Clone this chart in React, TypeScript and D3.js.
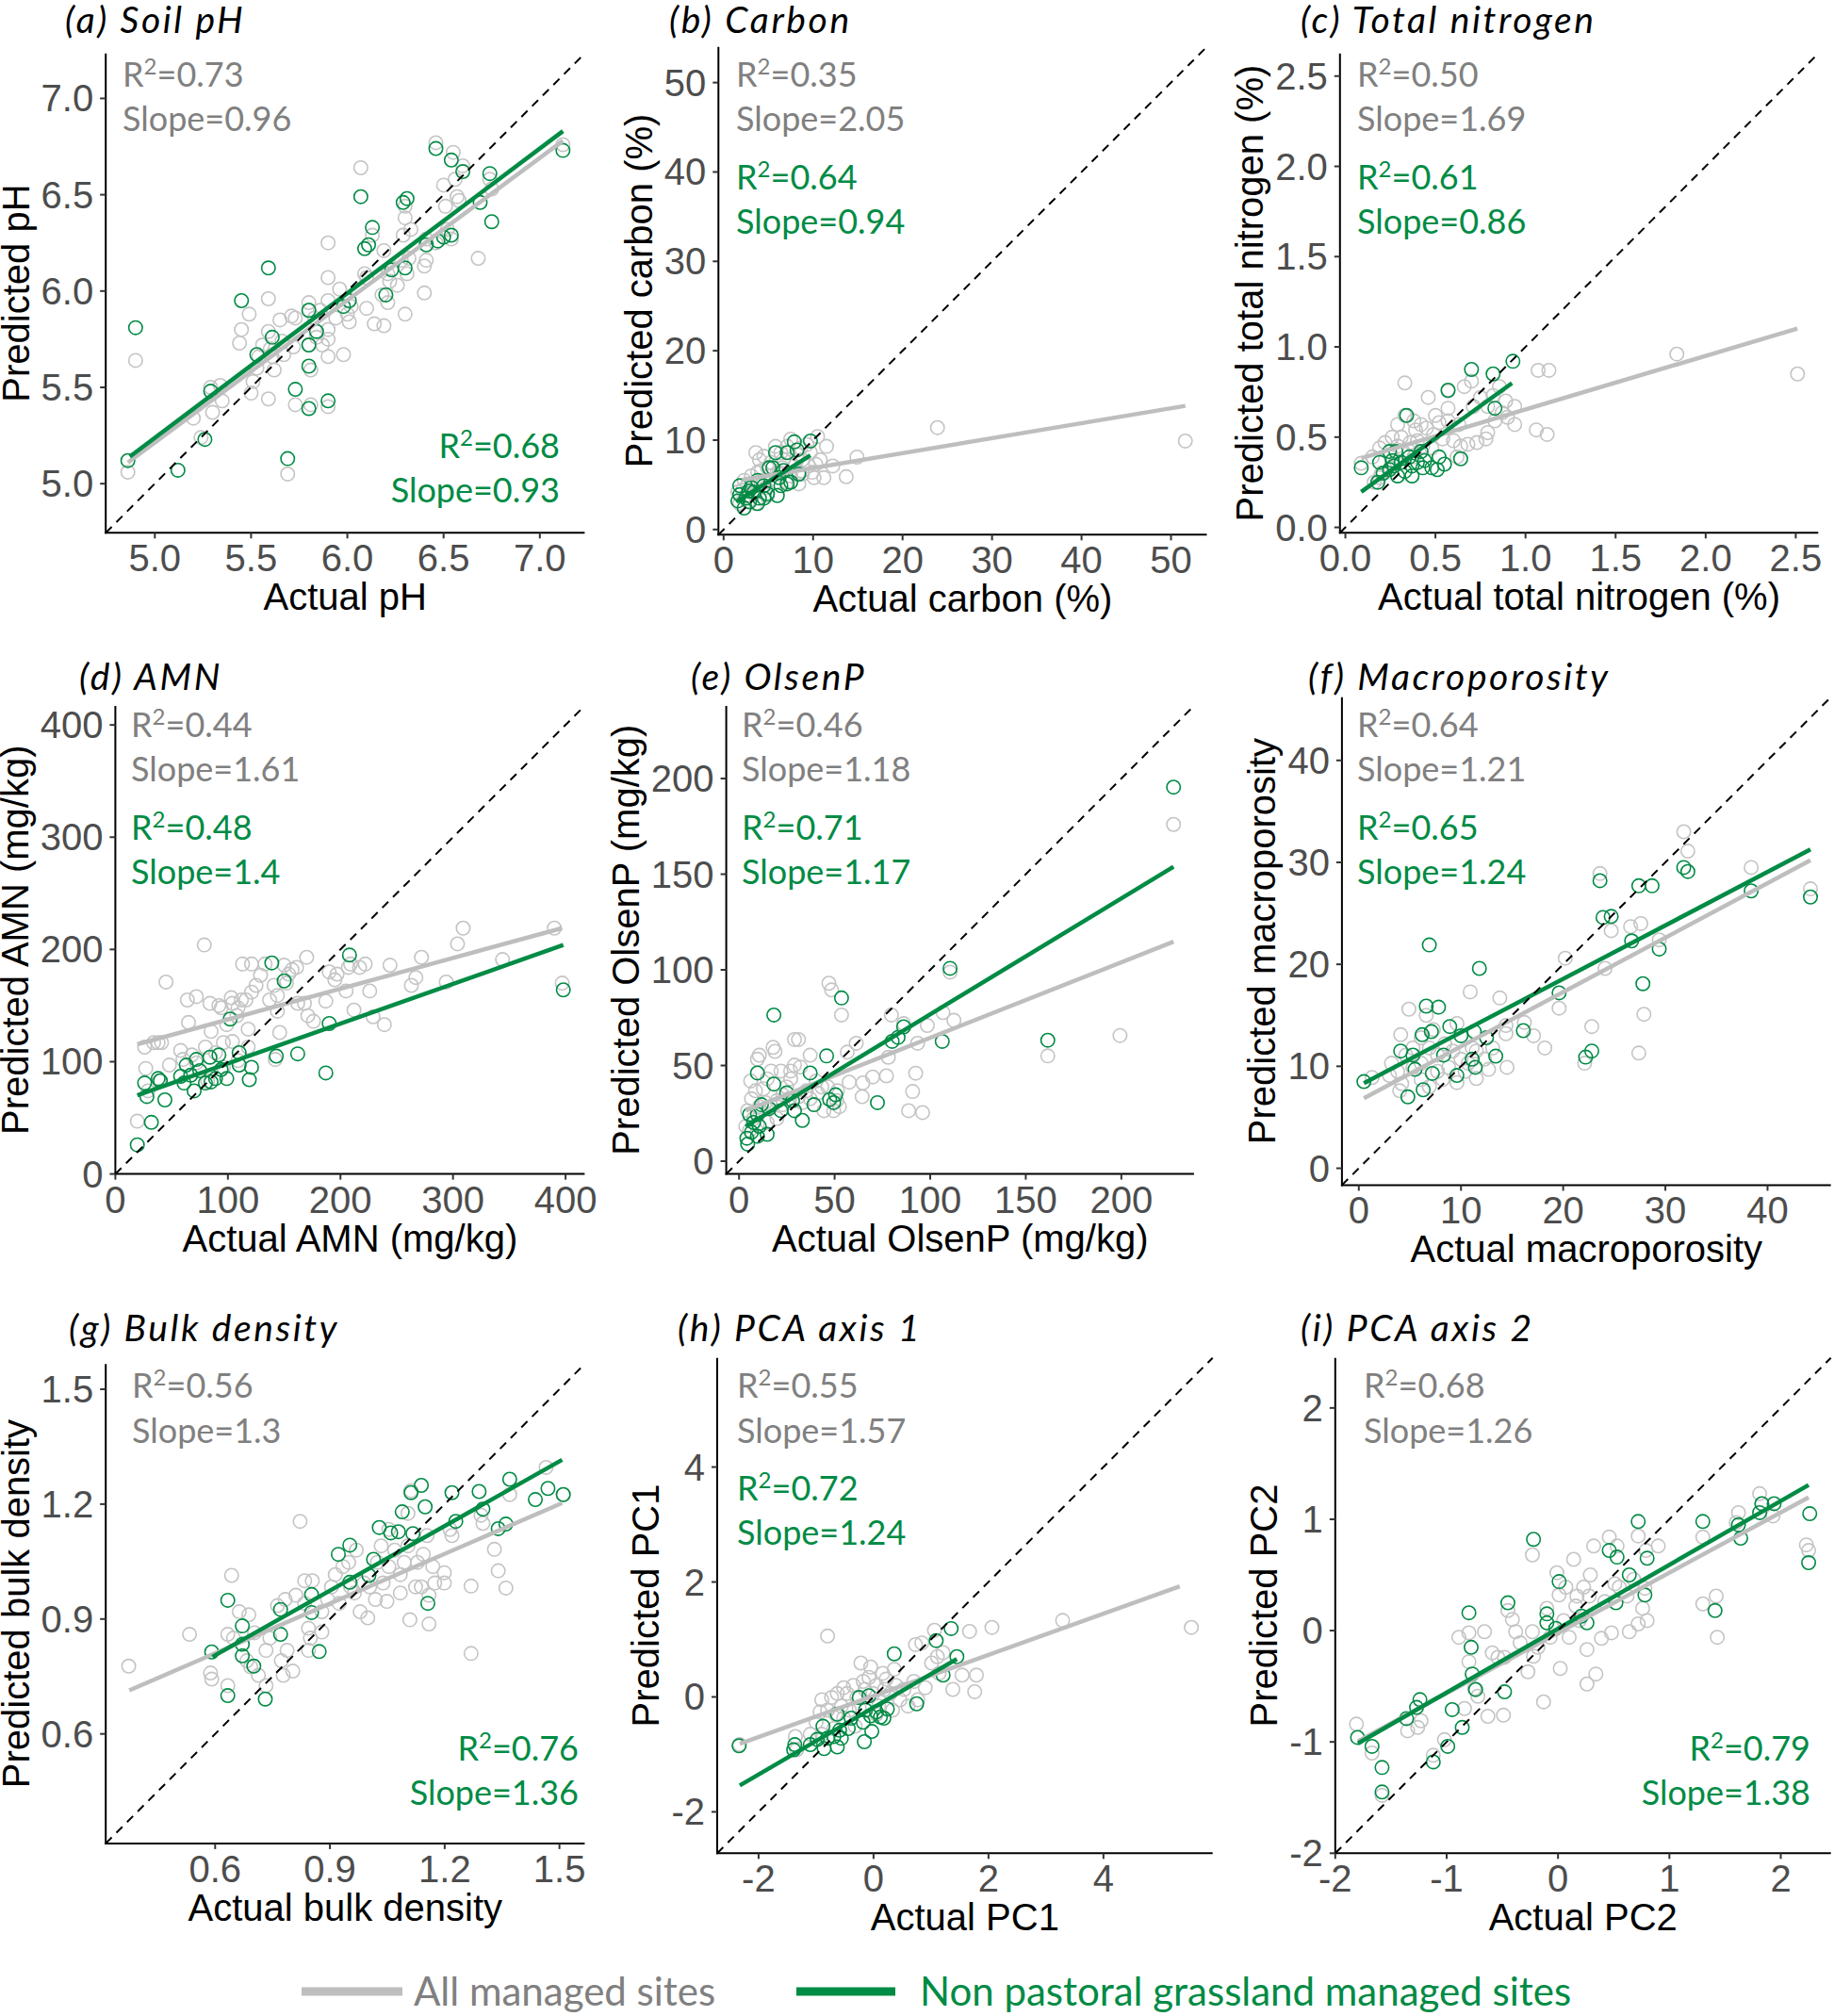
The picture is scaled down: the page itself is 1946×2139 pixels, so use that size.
import React from "react";
import * as d3 from "d3";

type Pt = [number, number];

// ---------------- DATA ----------------
const phGray: Pt[] = [[4.86,5.06],[4.90,5.64],[5.20,5.34],[5.24,5.24],[5.30,5.37],[5.29,5.50],[5.35,5.43],[5.34,5.51],[5.44,5.73],[5.45,5.80],[5.49,5.88],[5.50,5.47],[5.51,5.53],[5.53,5.60],[5.54,5.66],[5.56,5.72],[5.59,5.79],[5.59,5.96],[5.59,5.44],[5.60,5.70],[5.62,5.59],[5.61,5.66],[5.66,5.74],[5.65,5.85],[5.67,5.67],[5.71,5.87],[5.72,5.71],[5.69,5.05],[5.73,5.41],[5.73,5.86],[5.80,5.94],[5.80,5.90],[5.80,5.72],[5.81,5.59],[5.81,5.41],[5.83,5.86],[5.84,5.76],[5.86,5.90],[5.87,5.72],[5.90,6.25],[5.90,6.07],[5.90,5.95],[5.90,5.80],[5.90,5.75],[5.90,5.66],[5.90,5.40],[5.94,5.86],[5.96,6.01],[5.98,5.67],[6.00,5.88],[6.01,5.84],[6.02,5.92],[6.07,6.64],[6.09,6.09],[6.10,6.07],[6.10,5.91],[6.13,6.29],[6.14,5.83],[6.18,5.98],[6.19,5.82],[6.19,6.21],[6.21,6.09],[6.22,6.05],[6.21,5.94],[6.26,6.03],[6.28,6.16],[6.29,6.29],[6.30,6.38],[6.30,6.44],[6.30,5.88],[6.31,6.09],[6.32,6.17],[6.33,6.32],[6.40,5.99],[6.40,6.13],[6.41,6.16],[6.41,6.27],[6.46,6.25],[6.46,6.77],[6.50,6.55],[6.51,6.44],[6.52,6.32],[6.54,6.27],[6.55,6.72],[6.56,6.58],[6.57,6.49],[6.58,6.47],[6.60,6.65],[6.68,6.17],[6.74,6.58],[6.75,6.53],[7.12,6.76]];
const phGreen: Pt[] = [[4.86,5.12],[4.90,5.81],[5.12,5.07],[5.26,5.23],[5.29,5.48],[5.45,5.95],[5.53,5.67],[5.59,6.12],[5.61,5.76],[5.69,5.13],[5.73,5.49],[5.80,5.90],[5.80,5.72],[5.80,5.61],[5.80,5.39],[5.84,5.79],[5.90,5.43],[5.98,5.92],[6.01,5.95],[6.07,6.49],[6.09,6.22],[6.11,6.24],[6.13,6.33],[6.20,5.98],[6.23,6.11],[6.29,6.46],[6.31,6.48],[6.30,6.12],[6.41,6.24],[6.47,6.26],[6.50,6.28],[6.54,6.29],[6.46,6.74],[6.54,6.68],[6.60,6.62],[6.69,6.46],[6.74,6.61],[6.75,6.36],[7.12,6.73]];
const phGrayLine: Pt[] = [[4.86,5.11],[7.12,6.78]];
const phGreenLine: Pt[] = [[4.87,5.14],[7.12,6.83]];
const phTicks = [5.0, 5.5, 6.0, 6.5, 7.0];
const phDomain: Pt = [4.745, 7.233];

const cGray: Pt[] = [[23.9,11.4],[51.6,9.9],[14.9,8.1],[13.7,5.9],[12.2,7.1],[11.5,9.3],[11.2,5.8],[10.8,7.8],[10.1,5.8],[10.5,10.4],[9.3,9.5],[8.4,6.4],[8.2,8.4],[7.5,10.1],[7.1,5.3],[6.7,7.8],[6.2,6.2],[5.8,9.3],[5.3,7.5],[4.9,6.9],[4.5,5.5],[4.0,7.8],[3.6,8.6],[3.8,6.4],[3.1,6.0],[2.7,5.1],[2.3,5.5],[2.1,4.4],[1.6,4.2],[2.5,3.8],[3.4,4.0],[4.7,4.7],[5.8,5.3],[6.6,6.9],[7.3,8.6],[8.8,7.8],[9.5,7.1],[9.7,8.6],[6.4,8.6],[5.1,6.0],[4.2,6.6],[7.5,6.0],[8.4,5.1],[7.9,7.1],[2.7,3.1],[1.8,2.9],[3.6,2.9],[4.9,3.8],[6.0,6.4],[8.8,6.2],[9.9,6.4],[10.3,7.3],[8.6,9.1],[7.1,9.3],[4.5,8.2]];
const cGreen: Pt[] = [[1.6,3.2],[1.8,3.9],[2.3,2.4],[2.5,3.5],[2.9,3.1],[3.4,4.2],[3.8,2.9],[4.0,3.5],[4.5,3.5],[4.9,4.0],[3.8,5.5],[4.5,4.9],[5.1,6.9],[5.8,8.6],[6.0,3.8],[6.2,5.8],[6.7,6.6],[7.1,8.6],[7.1,5.1],[7.5,5.3],[7.9,9.8],[8.2,8.9],[8.4,6.2],[9.7,9.9],[5.5,6.9],[3.1,4.7],[6.4,4.9],[1.8,4.9],[2.8,4.3]];
const cGrayLine: Pt[] = [[2.05,5.54],[51.6,13.83]];
const cGreenLine: Pt[] = [[1.4,3.1],[9.7,8.29]];
const cTicks = [0, 10, 20, 30, 40, 50];
const cDomain: Pt = [-0.58, 54.0];

const nGray: Pt[] = [[0.088,0.355],[0.22,0.47],[0.33,0.80],[0.46,0.72],[0.57,0.755],[0.57,0.66],[0.57,0.59],[0.66,0.78],[0.70,0.81],[0.71,0.67],[0.75,0.72],[0.79,0.525],[0.79,0.67],[0.82,0.73],[0.855,0.78],[0.87,0.635],[0.89,0.70],[0.90,0.61],[0.94,0.67],[0.94,0.57],[1.07,0.87],[1.13,0.87],[1.06,0.54],[1.12,0.515],[1.84,0.96],[2.51,0.85],[0.29,0.57],[0.33,0.62],[0.38,0.59],[0.39,0.54],[0.42,0.57],[0.45,0.55],[0.49,0.515],[0.52,0.58],[0.54,0.49],[0.60,0.48],[0.64,0.45],[0.68,0.46],[0.73,0.47],[0.78,0.49],[0.26,0.50],[0.31,0.50],[0.36,0.47],[0.40,0.48],[0.43,0.45],[0.48,0.44],[0.19,0.44],[0.15,0.39],[0.20,0.30],[0.25,0.33],[0.28,0.37],[0.32,0.42],[0.38,0.39],[0.42,0.42],[0.29,0.45],[0.16,0.25],[0.19,0.275],[0.63,0.57],[0.50,0.62],[0.83,0.59],[0.62,0.39]];
const nGreen: Pt[] = [[0.088,0.33],[0.19,0.36],[0.18,0.25],[0.21,0.30],[0.245,0.32],[0.26,0.37],[0.28,0.42],[0.29,0.285],[0.31,0.36],[0.33,0.31],[0.34,0.62],[0.355,0.39],[0.37,0.34],[0.40,0.36],[0.42,0.42],[0.43,0.33],[0.44,0.37],[0.48,0.33],[0.51,0.32],[0.52,0.39],[0.55,0.35],[0.57,0.76],[0.64,0.38],[0.70,0.875],[0.82,0.85],[0.83,0.66],[0.93,0.92],[0.27,0.34],[0.37,0.285],[0.245,0.42]];
const nGrayLine: Pt[] = [[0.088,0.383],[2.509,1.101]];
const nGreenLine: Pt[] = [[0.088,0.197],[0.925,0.799]];
const nTicks = [0.0, 0.5, 1.0, 1.5, 2.0, 2.5];
const nDomain: Pt = [-0.03, 2.625];

const amnGray: Pt[] = [[19.5,47],[26,113],[27,94],[29,74],[34,117],[38,117],[39,83],[41,117],[45,171],[48,97],[58,110],[60,102],[65,135],[64,155],[72,158],[68,106],[72,99],[79,204],[80,113],[84,152],[85,127],[89,108],[92,150],[94,148],[96,117],[99,133],[103,157],[104,152],[104,118],[108,141],[109,148],[112,155],[113,187],[116,155],[118,129],[121,162],[121,187],[125,168],[129,177],[133,187],[137,155],[141,168],[144,159],[144,145],[146,126],[150,186],[152,170],[154,178],[157,182],[161,184],[162,152],[168,152],[170,193],[171,141],[176,136],[187,154],[190,180],[195,173],[197,178],[207,184],[209,187],[205,163],[212,146],[217,184],[222,187],[226,163],[229,140],[239,133],[244,186],[263,168],[267,175],[272,193],[294,171],[304,205],[309,219],[344,191],[390,219],[397,170],[82,83],[96,95],[109,101],[142,102],[118,113]];
const amnGreen: Pt[] = [[19.5,26],[26,81],[28,69],[32,46],[38,85],[40,83],[44,66],[58,87],[61,81],[63,97],[67,88],[70,74],[72,102],[75,92],[80,81],[84,104],[85,82],[89,85],[92,106],[94,93],[99,85],[102,138],[110,108],[110,97],[119,84],[121,95],[139,188],[143,105],[150,172],[162,107],[187,90],[190,134],[208,195],[398,164]];
const amnGrayLine: Pt[] = [[19.5,115.5],[397,219]];
const amnGreenLine: Pt[] = [[19.5,70],[398,204]];
const amnTicks = [0, 100, 200, 300, 400];
const amnDomain: Pt = [0, 417];

const olsGray: Pt[] = [[227.3,176],[199.3,65.7],[161.5,55],[110.4,98.8],[106.7,77.7],[112.4,73.6],[98.5,70.9],[93.4,61.6],[92.4,46],[90.8,36.4],[88.7,26.4],[96,25.4],[79.7,76.4],[86.1,71.9],[78.1,54.3],[77.1,44.6],[69.9,44],[64.8,40.9],[64.4,33.7],[57.6,41.3],[61.3,61.6],[56.6,57],[47,93],[48.4,89.5],[53.6,76.4],[51.5,36.8],[49.5,26.4],[52.5,28.5],[44.4,26.4],[41.3,35.7],[37.2,55.4],[40.3,41.9],[35.2,36.8],[31.1,63.6],[29,63.6],[29,50.2],[27,47.1],[27,43],[24.9,38.8],[22.9,34.7],[18.8,57.4],[17.8,59.5],[16.8,47.1],[14.7,43],[12.7,37.8],[9.6,53.3],[10.6,55.4],[6.1,41.9],[8.6,36.8],[6.5,32.6],[4.5,26.4],[3.5,18.2],[5.5,16.1],[7.6,22.3],[10.6,28.5],[13.7,30.6],[16.8,28.5],[19.8,31.6],[22.9,29.5],[26,32.6],[31.1,33.7],[33.1,30.6],[37.2,32.6],[19.8,22.3],[14.7,20.2],[9.6,19.2],[43.3,38.8],[46.4,38.8],[51.1,31.6],[39.2,29.5],[21.9,47.1],[32.1,49.2]];
const olsGreen: Pt[] = [[227.3,195.5],[110.4,100.8],[106.3,62.6],[161.5,63.2],[86.1,70.2],[83.2,64.7],[80.1,62.6],[53.6,85.3],[18.2,76.4],[45.8,55],[9.6,46.1],[37.2,46.1],[18.2,40.3],[39.2,29.5],[47.4,32.2],[50.5,34.7],[49.5,30.6],[72.4,30.6],[33.1,21.3],[29,26.4],[24.9,35.7],[21.9,26.4],[15.7,27.5],[11.7,29.5],[9.6,24.4],[5.5,24.4],[4.1,12],[6.5,15.1],[9.6,13],[14.7,14],[7.6,20.2],[10.6,18.2],[4.5,8.9],[28,31.6]];
const olsGrayLine: Pt[] = [[3.5,26.4],[227.3,114.7]];
const olsGreenLine: Pt[] = [[3.5,18.2],[227.3,153.9]];
const olsTicks = [0, 50, 100, 150, 200];
const olsDomain: Pt = [-6.7, 238];

const macGray: Pt[] = [[31.8,33],[32.2,31.1],[23.6,28.9],[38.4,29.5],[44.2,27.4],[26.6,23.7],[27.6,24],[24.7,23.3],[29.4,22.4],[20.2,20.6],[24.1,19.6],[10.9,17.3],[13.8,16.7],[19.6,15.7],[27.9,15.1],[22.8,13.9],[4.9,15.6],[6.6,15],[4.1,13.1],[16.2,14.3],[17.1,13],[18.2,11.8],[14.4,13.2],[14.4,14],[27.4,11.3],[22.1,10.3],[14.5,9.9],[12.7,9.7],[11.5,8.8],[9.6,8.4],[8.2,8.7],[6.1,8.7],[4,7.6],[3.8,9.5],[3.2,10.3],[3,9.1],[1.3,8.9],[4.6,11.1],[5.3,11.8],[6.1,10.3],[6.9,11.8],[7.7,11.1],[8.4,12.2],[9.2,11.5],[10,10.7],[10.7,10.3],[11.5,11.5],[12.3,10.7],[7.7,9.5],[8.8,9.9],[10.4,9.5],[5.3,9.9],[4.2,8.3],[6.1,12.8],[7.3,13.6],[9.6,14.2],[11.1,11.8],[13.1,11.8],[6.9,8]];
const macGreen: Pt[] = [[0.5,8.5],[4.8,7],[4.1,11.5],[5.3,11.1],[5.5,9.7],[6.2,13.1],[6.3,7.7],[6.6,15.9],[6.9,21.9],[7.1,13.4],[7.2,9.3],[7.8,15.8],[8.3,11.1],[8.9,13.9],[9.6,9.1],[10,13],[11.1,10.7],[11.3,13.4],[11.4,9.9],[11.8,19.6],[12.5,12.8],[13.4,11],[16.1,13.5],[19.6,17.2],[22.2,10.9],[22.8,11.5],[23.6,28.2],[23.9,24.6],[24.7,24.7],[26.7,22.3],[27.4,27.7],[28.7,27.7],[27.8,18.1],[29.4,21.5],[31.8,29.5],[32.2,29.1],[38.4,27.2],[44.2,26.6]];
const macGrayLine: Pt[] = [[0.5,6.87],[44.2,30.2]];
const macGreenLine: Pt[] = [[0.5,8.35],[44.2,31.26]];
const macTicks = [0, 10, 20, 30, 40];
const macDomain: Pt = [-1.65, 46.2];

const bdGray: Pt[] = [[0.374,0.777],[0.533,0.860],[0.588,0.759],[0.591,0.743],[0.633,0.726],[0.633,0.860],[0.643,1.014],[0.648,0.850],[0.663,0.919],[0.688,0.911],[0.683,0.791],[0.693,0.775],[0.703,0.864],[0.713,0.753],[0.733,0.818],[0.733,0.726],[0.743,0.850],[0.763,0.935],[0.773,0.791],[0.778,0.753],[0.788,0.818],[0.803,0.764],[0.783,0.951],[0.811,0.962],[0.822,1.155],[0.834,0.941],[0.834,1.000],[0.854,1.000],[0.844,0.876],[0.844,0.818],[0.849,0.850],[0.879,0.866],[0.879,0.919],[0.894,0.951],[0.904,0.984],[0.914,1.016],[0.924,0.941],[0.934,1.037],[0.949,1.048],[0.954,0.984],[0.964,0.968],[0.969,1.080],[0.979,0.919],[0.989,0.994],[0.999,0.903],[1.004,0.984],[1.019,0.951],[1.024,1.048],[1.034,1.091],[1.039,0.994],[1.049,0.946],[1.054,1.037],[1.069,1.080],[1.084,0.968],[1.084,1.016],[1.094,1.048],[1.104,1.091],[1.109,0.898],[1.112,1.235],[1.124,0.984],[1.129,1.048],[1.139,0.984],[1.144,1.069],[1.154,1.118],[1.159,0.962],[1.159,0.887],[1.169,1.037],[1.174,0.994],[1.199,1.021],[1.199,0.994],[1.214,1.134],[1.219,1.118],[1.269,0.986],[1.269,0.810],[1.295,1.171],[1.300,1.150],[1.330,1.082],[1.340,1.026],[1.360,0.981],[1.370,1.225],[1.465,1.296],[1.510,1.225],[1.054,1.134],[1.104,1.176]];
const bdGreen: Pt[] = [[0.591,0.814],[0.633,0.949],[0.633,0.700],[0.671,0.882],[0.671,0.834],[0.671,0.804],[0.701,0.777],[0.731,0.691],[0.771,0.925],[0.771,0.860],[0.852,0.964],[0.852,0.917],[0.872,0.815],[0.922,1.069],[0.952,1.093],[0.952,0.996],[1.002,1.014],[1.014,1.056],[1.029,1.139],[1.059,1.125],[1.079,1.128],[1.089,1.180],[1.112,1.230],[1.117,1.123],[1.139,1.249],[1.149,1.193],[1.156,0.941],[1.219,1.230],[1.229,1.155],[1.290,1.233],[1.300,1.187],[1.340,1.136],[1.360,1.148],[1.370,1.265],[1.437,1.212],[1.470,1.241],[1.510,1.225]];
const bdGrayLine: Pt[] = [[0.3755,0.7136],[1.507,1.2029]];
const bdGreenLine: Pt[] = [[0.593,0.8014],[1.507,1.3157]];
const bdTicks = [0.6, 0.9, 1.2, 1.5];
const bdDomain: Pt = [0.314, 1.566];

const pc1Gray: Pt[] = [[-2.33,-0.83],[-1.36,-0.69],[-1.34,-0.92],[-1.10,-0.65],[-1.0,-0.44],[-0.93,-0.26],[-0.90,-0.05],[-0.80,1.06],[-0.80,-0.23],[-0.73,-0.01],[-0.66,-0.30],[-0.63,0.06],[-0.56,-0.16],[-0.52,0.16],[-0.46,0.06],[-0.42,-0.23],[-0.35,0.20],[-0.29,-0.01],[-0.22,0.59],[-0.18,0.27],[-0.15,0.13],[-0.08,0.34],[-0.05,0.52],[-0.01,0.06],[0.05,0.20],[0.09,-0.16],[0.16,0.41],[0.19,0.13],[0.22,0.31],[0.29,0.06],[0.36,0.48],[0.39,0.20],[0.46,-0.05],[0.53,0.13],[0.60,-0.16],[0.70,0.27],[0.73,0.91],[0.77,-0.05],[0.84,0.94],[0.90,0.16],[1.01,0.59],[1.06,1.16],[1.11,0.70],[1.14,0.41],[1.21,0.77],[1.38,0.13],[1.54,0.38],[1.67,1.14],[1.76,0.09],[1.79,0.38],[2.06,1.21],[3.29,1.33],[5.53,1.21],[-0.52,-0.37],[-0.32,-0.51],[-0.69,-0.55],[-0.90,-0.65],[-0.25,-0.19],[0.05,-0.30],[0.33,-0.23]];
const pc1Green: Pt[] = [[-2.34,-0.85],[-1.37,-0.83],[-1.39,-0.92],[-1.10,-0.83],[-0.98,-0.74],[-0.88,-0.51],[-0.86,-0.90],[-0.80,-0.72],[-0.69,-0.69],[-0.63,-0.87],[-0.59,-0.58],[-0.56,-0.72],[-0.44,-0.55],[-0.63,-0.30],[-0.39,-0.37],[-0.25,-0.01],[-0.18,-0.44],[-0.16,-0.78],[-0.14,-0.23],[-0.08,0.02],[-0.05,-0.33],[-0.03,-0.60],[0.05,-0.26],[0.12,-0.35],[0.18,-0.37],[0.24,-0.21],[0.36,0.75],[0.75,-0.12],[1.09,0.98],[1.21,0.38],[1.35,1.19],[1.45,0.70]];
const pc1GrayLine: Pt[] = [[-2.327,-0.816],[5.327,1.924]];
const pc1GreenLine: Pt[] = [[-2.327,-1.54],[1.449,0.66]];
const pc1Ticks = [-2, 0, 2, 4];
const pc1Domain: Pt = [-2.72, 5.9];

const pc2Gray: Pt[] = [[-1.81,-0.84],[-1.67,-1.10],[-1.58,-1.48],[-1.35,-0.90],[-1.26,-0.87],[-1.23,-0.81],[-1.02,-0.98],[-1.12,-1.12],[-0.89,-0.06],[-0.80,-0.02],[-0.80,-0.28],[-0.84,-0.70],[-0.75,-0.52],[-0.72,-0.59],[-0.66,-0.01],[-0.63,-0.77],[-0.59,-0.20],[-0.54,-0.24],[-0.48,-0.24],[-0.45,0.18],[-0.49,-0.76],[-0.41,0.10],[-0.38,-0.01],[-0.34,-0.11],[-0.27,-0.37],[-0.23,0.68],[-0.22,-0.23],[-0.23,-0.01],[-0.18,-0.15],[-0.13,-0.64],[-0.10,0.20],[-0.07,-0.06],[-0.01,0.52],[0.01,0.32],[0.02,-0.34],[0.05,0.09],[0.07,0.39],[0.10,-0.06],[0.14,0.64],[0.16,0.22],[0.17,0.31],[0.19,0.09],[0.23,0.39],[0.26,-0.48],[0.26,-0.17],[0.28,0.31],[0.29,0.50],[0.32,0.76],[0.34,-0.39],[0.39,-0.07],[0.42,0.26],[0.46,0.84],[0.48,-0.02],[0.51,0.42],[0.53,0.76],[0.55,0.39],[0.62,0.31],[0.64,-0.01],[0.68,0.46],[0.72,0.85],[0.72,0.06],[0.76,0.20],[0.78,0.38],[0.79,0.72],[0.80,0.09],[0.90,0.76],[1.30,0.84],[1.30,0.24],[1.42,0.31],[1.43,-0.06],[1.62,1.06],[1.60,0.97],[1.81,1.23],[1.83,1.14],[1.93,1.03],[2.23,0.77],[2.25,0.72]];
const pc2Green: Pt[] = [[-1.80,-0.96],[-1.67,-1.04],[-1.58,-1.23],[-1.58,-1.45],[-1.36,-0.79],[-1.27,-0.69],[-1.24,-0.62],[-1.12,-1.18],[-0.99,-1.04],[-0.95,-0.71],[-0.86,-0.87],[-0.80,0.16],[-0.78,-0.15],[-0.77,-0.39],[-0.74,-0.53],[-0.48,-0.55],[-0.45,0.25],[-0.22,0.82],[-0.10,0.15],[-0.10,0.07],[-0.02,0.02],[0.01,0.44],[0.21,0.13],[0.26,0.07],[0.46,0.72],[0.52,0.25],[0.53,0.66],[0.64,0.50],[0.72,0.98],[0.80,0.65],[0.78,0.32],[1.30,0.98],[1.41,0.18],[1.62,0.95],[1.64,0.83],[1.81,1.06],[1.83,1.14],[1.94,1.14],[2.26,1.05],[2.25,0.61]];
const pc2GrayLine: Pt[] = [[-1.796,-0.994],[2.25,1.197]];
const pc2GreenLine: Pt[] = [[-1.796,-1.013],[2.25,1.308]];
const pc2Ticks = [-2, -1, 0, 1, 2];
const pc2Domain: Pt = [-2.0, 2.45];

const titles = ["(a) Soil pH", "(b) Carbon", "(c) Total nitrogen", "(d) AMN", "(e) OlsenP", "(f) Macroporosity", "(g) Bulk density", "(h) PCA axis 1", "(i) PCA axis 2"];
const xLabels = ["Actual pH", "Actual carbon (%)", "Actual total nitrogen (%)", "Actual AMN (mg/kg)", "Actual OlsenP (mg/kg)", "Actual macroporosity", "Actual bulk density", "Actual PC1", "Actual PC2"];
const yLabels = ["Predicted pH", "Predicted carbon (%)", "Predicted total nitrogen (%)", "Predicted AMN (mg/kg)", "Predicted OlsenP (mg/kg)", "Predicted macroporosity", "Predicted bulk density", "Predicted PC1", "Predicted PC2"];
const grayR2 = ["0.73", "0.35", "0.50", "0.44", "0.46", "0.64", "0.56", "0.55", "0.68"];
const graySlope = ["0.96", "2.05", "1.69", "1.61", "1.18", "1.21", "1.3", "1.57", "1.26"];
const greenR2 = ["0.68", "0.64", "0.61", "0.48", "0.71", "0.65", "0.76", "0.72", "0.79"];
const greenSlope = ["0.93", "0.94", "0.86", "1.4", "1.17", "1.24", "1.36", "1.24", "1.38"];
const legendLabels = ["All managed sites", "Non pastoral grassland managed sites"];

// ---------------- LAYOUT ----------------
const W = 1946, H = 2139;
const FONT_AX = "'Liberation Sans', Arial, sans-serif";
const FONT_TXT = "Lato, 'Open Sans', sans-serif";
const GREEN = "#008B45";
const GREY_TXT = "#808080";
const GREY_PT = "#c4c4c4";
const GREY_LN = "#bebebe";
const TICK_FS = 40;
const AX_FS = 40;
const ANN_FS = 36;

interface PanelDef {
  i: number;
  domain: Pt; ticks: number[]; fmt: (v: number) => string;
  gray: Pt[]; green: Pt[]; grayLine: Pt[]; greenLine: Pt[];
  box: [number, number, number, number];
  title: [number, number];
  annX: number; annY: number[]; greenBR: [number, number] | null;
}

const f1 = (v: number) => v.toFixed(1);
const f0 = (v: number) => String(v);

const row1 = [92, 139, 201, 248];
const row2 = [782, 829, 891, 938];
const row3 = [1483, 1531, 1592, 1639];

const panels: PanelDef[] = [
  { i: 0, domain: phDomain, ticks: phTicks, fmt: f1, gray: phGray, green: phGreen, grayLine: phGrayLine, greenLine: phGreenLine, box: [112.2, 56.8, 620.4, 565.3], title: [69, 35], annX: 130, annY: row1, greenBR: [594, 486] },
  { i: 1, domain: cDomain, ticks: cTicks, fmt: f0, gray: cGray, green: cGreen, grayLine: cGrayLine, greenLine: cGreenLine, box: [762.3, 49.7, 1280.5, 567.3], title: [710, 35], annX: 781, annY: row1, greenBR: null },
  { i: 2, domain: nDomain, ticks: nTicks, fmt: f1, gray: nGray, green: nGreen, grayLine: nGrayLine, greenLine: nGreenLine, box: [1421.8, 56.8, 1929.3, 565.3], title: [1380, 35], annX: 1440, annY: row1, greenBR: null },
  { i: 3, domain: amnDomain, ticks: amnTicks, fmt: f0, gray: amnGray, green: amnGreen, grayLine: amnGrayLine, greenLine: amnGreenLine, box: [122.4, 748.9, 620.4, 1245.6], title: [84, 732], annX: 139, annY: row2, greenBR: null },
  { i: 4, domain: olsDomain, ticks: olsTicks, fmt: f0, gray: olsGray, green: olsGreen, grayLine: olsGrayLine, greenLine: olsGreenLine, box: [770.6, 748.9, 1266.9, 1245.6], title: [733, 732], annX: 787, annY: row2, greenBR: null },
  { i: 5, domain: macDomain, ticks: macTicks, fmt: f0, gray: macGray, green: macGreen, grayLine: macGrayLine, greenLine: macGreenLine, box: [1423.9, 739.7, 1942.7, 1257.4], title: [1388, 732], annX: 1440, annY: row2, greenBR: null },
  { i: 6, domain: bdDomain, ticks: bdTicks, fmt: f1, gray: bdGray, green: bdGreen, grayLine: bdGrayLine, greenLine: bdGreenLine, box: [112.2, 1447.2, 620.4, 1955.9], title: [73, 1423], annX: 140, annY: row3, greenBR: [614, 1868] },
  { i: 7, domain: pc1Domain, ticks: pc1Ticks, fmt: f0, gray: pc1Gray, green: pc1Green, grayLine: pc1GrayLine, greenLine: pc1GreenLine, box: [761, 1440.7, 1286.7, 1966.3], title: [719, 1423], annX: 782, annY: row3, greenBR: null },
  { i: 8, domain: pc2Domain, ticks: pc2Ticks, fmt: f0, gray: pc2Gray, green: pc2Green, grayLine: pc2GrayLine, greenLine: pc2GreenLine, box: [1416.8, 1440.7, 1942.7, 1966.3], title: [1380, 1423], annX: 1447, annY: row3, greenBR: [1921, 1868] },
];

function arialWidth(s: string, fs: number): number {
  let w = 0;
  for (const ch of s) {
    if (ch === ".") w += 0.278;
    else if (ch === "-") w += 0.333;
    else w += 0.556;
  }
  return w * fs;
}

function Stat({ x, y, label, value, color, anchor }: { x: number; y: number; label: string; value: string; color: string; anchor: string }) {
  if (label === "R2") {
    return (
      <text x={x} y={y} fill={color} fontFamily={FONT_TXT} fontSize={ANN_FS} textAnchor={anchor}>
        R<tspan dy={-13} fontSize={24}>2</tspan><tspan dy={13}>={value}</tspan>
      </text>
    );
  }
  return (
    <text x={x} y={y} fill={color} fontFamily={FONT_TXT} fontSize={ANN_FS} textAnchor={anchor}>
      Slope={value}
    </text>
  );
}

function Panel({ p }: { p: PanelDef }) {
  const [l, t, r, b] = p.box;
  const x = d3.scaleLinear().domain(p.domain).range([l, r]);
  const y = d3.scaleLinear().domain(p.domain).range([b, t]);
  const line = d3.line<Pt>().x((d) => x(d[0])).y((d) => y(d[1]));
  const maxTickW = d3.max(p.ticks, (v) => arialWidth(p.fmt(v), TICK_FS)) || 0;
  const yTitleX = l - 13 - maxTickW - 13;
  const cx = (l + r) / 2;
  const cy = (t + b) / 2;
  return (
    <g>
      {p.gray.map((d, k) => (
        <circle key={"g" + k} cx={x(d[0])} cy={y(d[1])} r={7.2} fill="none" stroke={GREY_PT} strokeWidth={1.6} />
      ))}
      {p.green.map((d, k) => (
        <circle key={"n" + k} cx={x(d[0])} cy={y(d[1])} r={7.2} fill="none" stroke={GREEN} strokeWidth={1.6} />
      ))}
      <path d={line(p.grayLine) || ""} stroke={GREY_LN} strokeWidth={4.5} fill="none" />
      <path d={line(p.greenLine) || ""} stroke={GREEN} strokeWidth={4.5} fill="none" />
      <line x1={x(p.domain[0])} y1={y(p.domain[0])} x2={x(p.domain[1])} y2={y(p.domain[1])} stroke="#000" strokeWidth={2} strokeDasharray="9,7" />
      <line x1={l} y1={t} x2={l} y2={b + 1} stroke="#000" strokeWidth={2} />
      <line x1={l - 1} y1={b} x2={r} y2={b} stroke="#000" strokeWidth={2} />
      {p.ticks.map((v) => (
        <g key={"xt" + v}>
          <line x1={x(v)} x2={x(v)} y1={b} y2={b + 6} stroke="#333" strokeWidth={2} />
          <text x={x(v)} y={b + 41} textAnchor="middle" fontFamily={FONT_AX} fontSize={TICK_FS} fill="#4d4d4d">{p.fmt(v)}</text>
        </g>
      ))}
      {p.ticks.map((v) => (
        <g key={"yt" + v}>
          <line x1={l - 6} x2={l} y1={y(v)} y2={y(v)} stroke="#333" strokeWidth={2} />
          <text x={l - 13} y={y(v) + 14} textAnchor="end" fontFamily={FONT_AX} fontSize={TICK_FS} fill="#4d4d4d">{p.fmt(v)}</text>
        </g>
      ))}
      <text x={cx} y={b + 82} textAnchor="middle" fontFamily={FONT_AX} fontSize={AX_FS} fill="#000">{xLabels[p.i]}</text>
      <text transform={`translate(${yTitleX},${cy}) rotate(-90)`} textAnchor="middle" fontFamily={FONT_AX} fontSize={AX_FS} fill="#000">{yLabels[p.i]}</text>
      <text x={p.title[0]} y={p.title[1]} fontFamily={FONT_TXT} fontStyle="italic" fontSize={39} letterSpacing={2.6} fill="#000">{titles[p.i]}</text>
      <Stat x={p.annX} y={p.annY[0]} label="R2" value={grayR2[p.i]} color={GREY_TXT} anchor="start" />
      <Stat x={p.annX} y={p.annY[1]} label="S" value={graySlope[p.i]} color={GREY_TXT} anchor="start" />
      {p.greenBR ? (
        <>
          <Stat x={p.greenBR[0]} y={p.greenBR[1]} label="R2" value={greenR2[p.i]} color={GREEN} anchor="end" />
          <Stat x={p.greenBR[0]} y={p.greenBR[1] + 47} label="S" value={greenSlope[p.i]} color={GREEN} anchor="end" />
        </>
      ) : (
        <>
          <Stat x={p.annX} y={p.annY[2]} label="R2" value={greenR2[p.i]} color={GREEN} anchor="start" />
          <Stat x={p.annX} y={p.annY[3]} label="S" value={greenSlope[p.i]} color={GREEN} anchor="start" />
        </>
      )}
    </g>
  );
}

export default function App() {
  return (
    <div style={{ position: "absolute", left: 0, top: 0, background: "#fff" }}>
      <svg width={W} height={H} viewBox={`0 0 ${W} ${H}`} style={{ display: "block", background: "#fff" }}>
        <rect x={0} y={0} width={W} height={H} fill="#fff" />
        {panels.map((p) => (
          <Panel key={p.i} p={p} />
        ))}
        <line x1={320} x2={427} y1={2113} y2={2113} stroke={GREY_LN} strokeWidth={9} />
        <text x={439} y={2128} fontFamily={FONT_TXT} fontSize={42} fill={GREY_TXT}>{legendLabels[0]}</text>
        <line x1={845} x2={950} y1={2113} y2={2113} stroke={GREEN} strokeWidth={9} />
        <text x={976} y={2128} fontFamily={FONT_TXT} fontSize={42} fill={GREEN}>{legendLabels[1]}</text>
      </svg>
    </div>
  );
}
